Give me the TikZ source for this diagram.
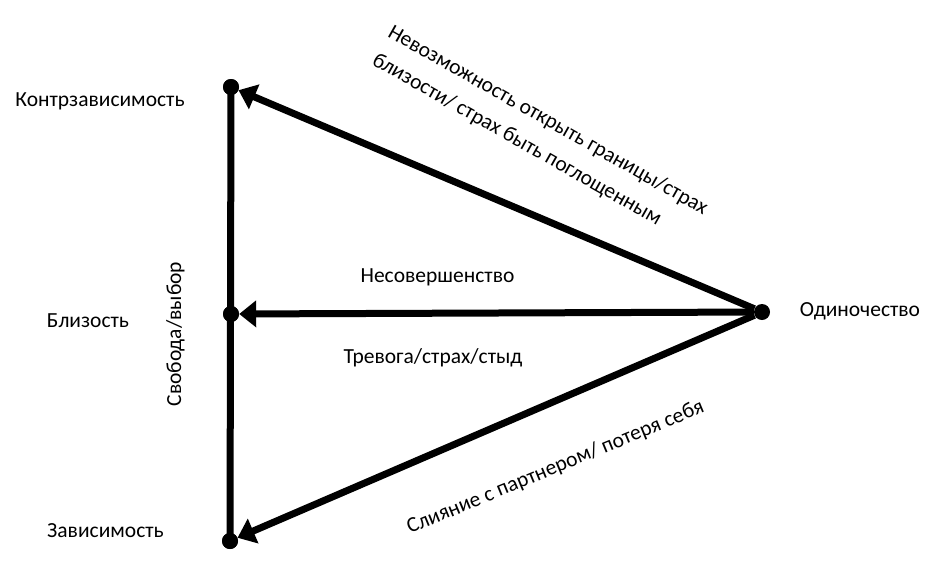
\documentclass[tikz,border=0pt]{standalone}
\usepackage{fontspec}
\setmainfont{Carlito}
\usetikzlibrary{arrows.meta}
\begin{document}
\begin{tikzpicture}[x=1pt,y=-1pt,
  dot/.style={circle,fill=black,inner sep=0pt,minimum size=16pt},
  conn/.style={line width=7pt,-{Triangle[length=17pt,width=26pt]}},
  axis/.style={line width=7pt},
  lbl/.style={font=\fontsize{21.5}{32}\selectfont,inner sep=0pt,anchor=base}]
\useasboundingbox[fill=white] (0,0) rectangle (948,574);
\node[dot] (A) at (231,87) {};
\node[dot] (B) at (231,314) {};
\node[dot] (C) at (230,541) {};
\node[dot] (R) at (762,312) {};
\draw[axis] (A.center) -- (C.center);
\draw[conn] (R) -- (A);
\draw[conn] (R) -- (B);
\draw[conn] (R) -- (C);
\node[dot] at (A) {};
\node[dot] at (B) {};
\node[dot] at (C) {};
\node[lbl] (lA) at (100,106) {Контрзависимость};
\node[lbl] (lB) at (88,327) {Близость};
\node[lbl] (lC) at (105.5,537) {Зависимость};
\node[lbl] (lR) at (860,316.5) {Одиночество};
\node[lbl] (lM1) at (437.5,282) {Несовершенство};
\node[lbl] (lM2) at (433,363) {Тревога/страх/стыд};
\node[lbl,rotate=90] (lV) at (181,334) {Свобода/выбор};
\node[lbl,anchor=base west,align=left,rotate=-29.5] (lT) at (371,64) {Невозможность открыть границы/страх\\близости/ страх быть поглощенным};
\node[lbl,anchor=base west,rotate=22.5] (lL) at (410,534) {Слияние с партнером/ потеря себя};
\end{tikzpicture}
\end{document}
